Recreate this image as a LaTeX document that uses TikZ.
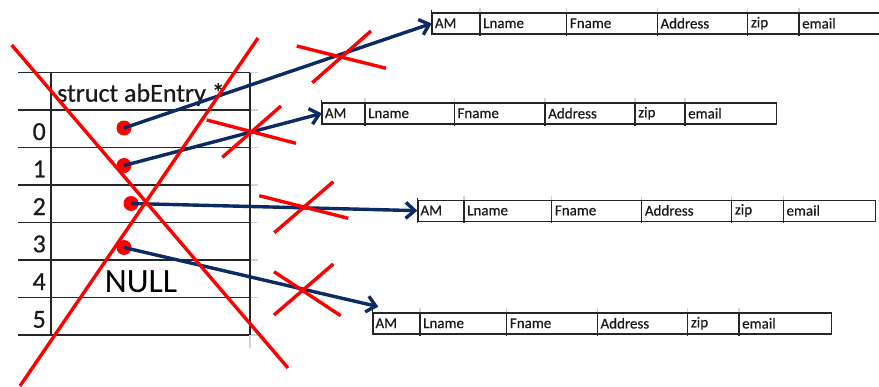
\documentclass[tikz,border=0pt]{standalone}
\usepackage{fontspec}
\setmainfont{Carlito}
\newfontfamily\cellfont[FakeBold=0.6]{Carlito}
\usetikzlibrary{arrows.meta}
\definecolor{ptrblue}{HTML}{0C2A63}
\definecolor{crossred}{HTML}{FF0000}
\definecolor{gridfaint}{HTML}{CDD5E2}
\definecolor{cellline}{HTML}{262626}
\definecolor{inktext}{HTML}{1A1A1A}

\begin{document}
\begin{tikzpicture}[x=1pt,y=-1pt,
  gridline/.style={draw=cellline, line width=1.5pt},
  faint/.style={draw=gridfaint, line width=1.2pt},
  hdrtext/.style={font=\cellfont\fontsize{26}{26}\selectfont, text=inktext, anchor=base west, inner sep=0pt},
  idx/.style={font=\cellfont\fontsize{26}{26}\selectfont, text=inktext, anchor=base east, inner sep=0pt},
  nulltext/.style={font=\fontsize{34}{34}\selectfont, text=black, anchor=base, inner sep=0pt},
  fld/.style={font=\cellfont\fontsize{15}{15}\selectfont, text=inktext, anchor=west, inner sep=0pt},
  tabbox/.style={draw=cellline, line width=1.3pt, minimum height=21pt, inner sep=0pt,
                 anchor=north west, minimum width=#1pt},
  ptr/.style={draw=ptrblue, line width=3.4pt, -{Straight Barb[length=9pt,width=16pt]}},
  strike/.style={draw=crossred, line width=3.4pt},
  dot/.style={circle, fill=crossred, minimum size=15pt, inner sep=0pt},
]
\useasboundingbox (0,0) rectangle (879,386);
\fill[white] (0,0) rectangle (879,386);

% ---- record layouts (AM | Lname | Fname | Address | zip | email)
\foreach \tn/\x/\y/\pa/\pb/\pc/\pd/\pe/\w in {
  t1/431.7/12.3/48.3/135/225.6/316/367.3/458.4,
  t2/321.7/102.3/43.3/132.6/223.3/313.3/363.3/454.3,
  t3/417.3/199.5/46.7/134.4/224.4/314.4/366/457.7,
  t4/372.3/312.3/47.7/134.4/225/315.4/366.7/458.4}
{
  \node[tabbox=\w] (\tn) at (\x,\y) {};
  \foreach \o in {\pa,\pb,\pc,\pd,\pe} {
    \draw[faint] (\x+\o,\y-4) -- (\x+\o,\y);
    \draw[cellline, line width=1.3pt] (\x+\o,\y) -- (\x+\o,\y+23.5);
  }
  \draw[cellline, line width=1.3pt] (\x,\y-2) -- (\x,\y+23);
  \foreach \o/\s in {0/AM,\pa/Lname,\pb/Fname,\pc/Address,\pd/zip,\pe/email}
    \node[fld] (\tn-\s) at (\x+\o+3,\y+11) {\s};
}

% ---- pointer array
\foreach \yy in {72.7,110,147.3,185,222.3,260,297.7,335} {
  \draw[faint] (250,\yy) -- (258,\yy);
  \draw[gridline] (18,\yy) -- (250,\yy);
}
\draw[faint] (250,335) -- (250,348);
\draw[gridline] (51,72.7) -- (51,335);
\draw[gridline] (250,72.7) -- (250,335);

\node[hdrtext] (hdr) at (57,101.7) {struct abEntry *};
\foreach \i/\b in {0/140,1/177.3,2/215,3/252.3,4/290,5/327.7}
  \node[idx] (n\i) at (46,\b) {\i};
\node[nulltext] (null) at (141,292) {NULL};

\node[dot] (d0) at (124,128) {};
\node[dot] (d1) at (124,165.5) {};
\node[dot] (d2) at (131,203.5) {};
\node[dot] (d3) at (124,247.5) {};

% ---- pointers
\coordinate (t4in) at (378.3,306.7);
\draw[ptr] (d0.center) -- (t1.west);
\draw[ptr] (d1.center) -- (t2.west);
\draw[ptr] (d2.center) -- (t3.west);
\draw[ptr] (d3.center) -- (t4in);

% ---- crossings-out
\draw[strike] (11.7,45) -- (288,368);
\draw[strike] (258,38) -- (20,386);

\draw[strike] (296.7,46) -- (386,68.3);
\draw[strike] (371,31) -- (312.3,82.7);

\draw[strike] (206.7,120) -- (296,143.3);
\draw[strike] (281,106) -- (222.3,157.3);

\draw[strike] (259.3,195.7) -- (348.3,218.3);
\draw[strike] (333.3,181.7) -- (274.3,232.7);

\draw[strike] (274,271.7) -- (340.7,315.7);
\draw[strike] (333.3,264) -- (274,315);
\end{tikzpicture}
\end{document}
